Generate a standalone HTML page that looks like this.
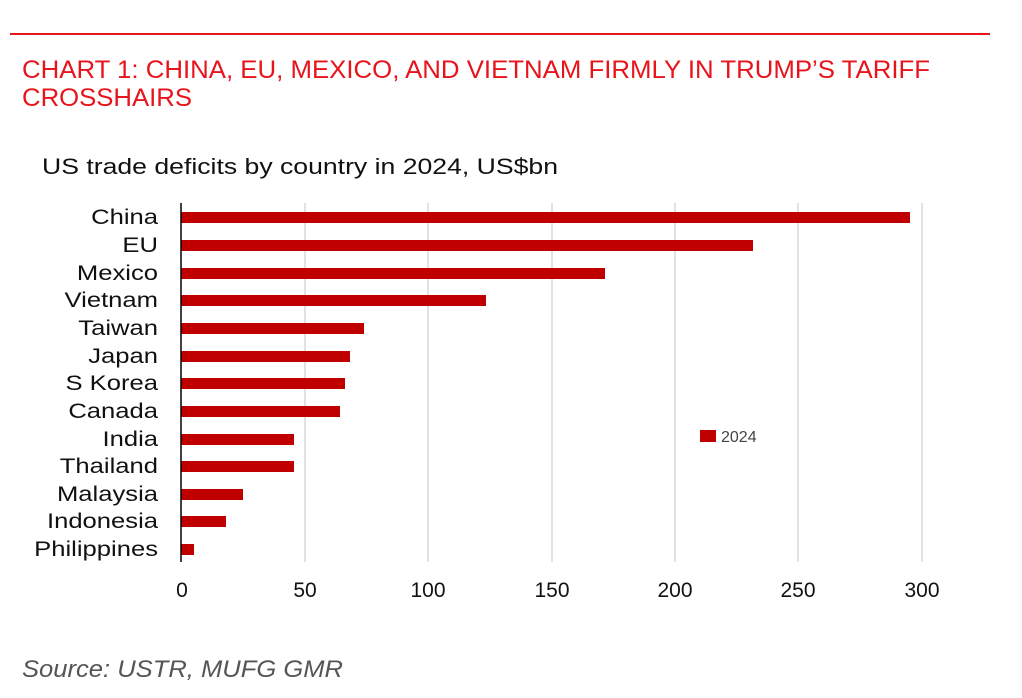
<!DOCTYPE html>
<html><head><style>body{margin:0;background:#fff}svg{display:block}</style></head><body>
<svg width="1022" height="698" xmlns="http://www.w3.org/2000/svg" font-family="Liberation Sans, Arial, sans-serif">
<rect width="1022" height="698" fill="#fff"/>
<line x1="10" y1="34" x2="990" y2="34" stroke="#e8141c" stroke-width="2"/>
<text x="22" y="78" font-size="25" fill="#e8141c" textLength="908" lengthAdjust="spacingAndGlyphs">CHART 1: CHINA, EU, MEXICO, AND VIETNAM FIRMLY IN TRUMP’S TARIFF</text>
<text x="22" y="106" font-size="25" fill="#e8141c" textLength="170" lengthAdjust="spacingAndGlyphs">CROSSHAIRS</text>
<text x="42" y="174" font-size="22" fill="#111" textLength="516" lengthAdjust="spacingAndGlyphs">US trade deficits by country in 2024, US$bn</text>
<g stroke="#d9d9d9" stroke-width="1.5">
<line x1="305" y1="203" x2="305" y2="562"/><line x1="428" y1="203" x2="428" y2="562"/><line x1="552" y1="203" x2="552" y2="562"/><line x1="675" y1="203" x2="675" y2="562"/><line x1="798" y1="203" x2="798" y2="562"/><line x1="922" y1="203" x2="922" y2="562"/>
</g>
<g fill="#c00000">
<rect x="181" y="212" width="729" height="11"/>
<rect x="181" y="240" width="572" height="11"/>
<rect x="181" y="268" width="424" height="11"/>
<rect x="181" y="295" width="305" height="11"/>
<rect x="181" y="323" width="183" height="11"/>
<rect x="181" y="351" width="169" height="11"/>
<rect x="181" y="378" width="164" height="11"/>
<rect x="181" y="406" width="159" height="11"/>
<rect x="181" y="434" width="113" height="11"/>
<rect x="181" y="461" width="113" height="11"/>
<rect x="181" y="489" width="62" height="11"/>
<rect x="181" y="516" width="45" height="11"/>
<rect x="181" y="544" width="13" height="11"/>
<rect x="700" y="430" width="16" height="12"/>
</g>
<line x1="181" y1="203" x2="181" y2="562" stroke="#000" stroke-width="1.5"/>
<text x="721" y="442" font-size="16" fill="#444">2024</text>
<g transform="translate(158,0) scale(1.22,1)" font-size="21" fill="#111" text-anchor="end">
<text x="0" y="224">China</text><text x="0" y="252">EU</text><text x="0" y="280">Mexico</text><text x="0" y="307">Vietnam</text><text x="0" y="335">Taiwan</text><text x="0" y="363">Japan</text><text x="0" y="390">S Korea</text><text x="0" y="418">Canada</text><text x="0" y="446">India</text><text x="0" y="473">Thailand</text><text x="0" y="501">Malaysia</text><text x="0" y="528">Indonesia</text><text x="0" y="556">Philippines</text>
</g>
<g font-size="21" fill="#111" text-anchor="middle">
<text x="182" y="597">0</text><text x="305" y="597">50</text><text x="428" y="597">100</text><text x="552" y="597">150</text><text x="675" y="597">200</text><text x="798" y="597">250</text><text x="922" y="597">300</text>
</g>
<text x="22" y="677" font-size="24" font-style="italic" fill="#555" textLength="321" lengthAdjust="spacingAndGlyphs">Source: USTR, MUFG GMR</text>
</svg>
</body></html>
